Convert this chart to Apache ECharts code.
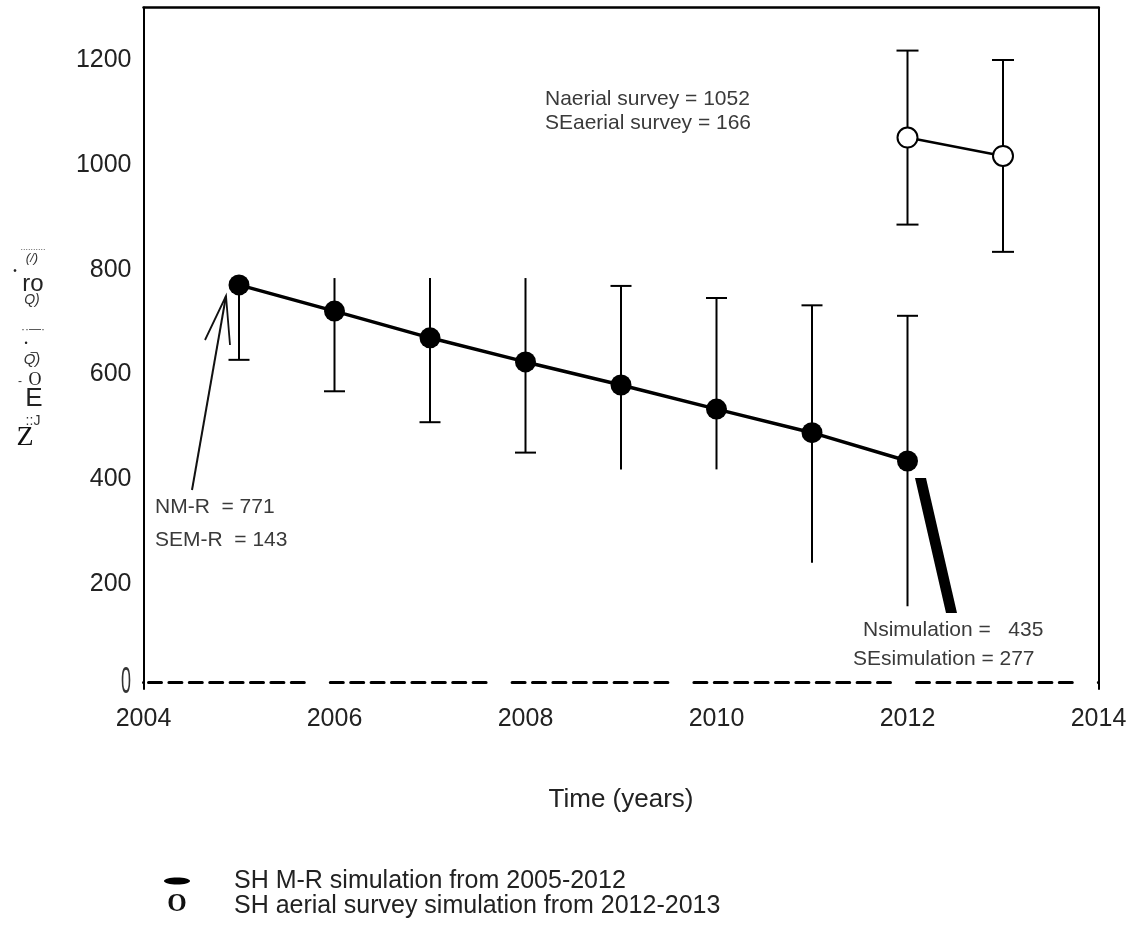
<!DOCTYPE html>
<html>
<head>
<meta charset="utf-8">
<script src="https://cdn.jsdelivr.net/npm/echarts@6/dist/echarts.min.js"></script>
<style>
  html, body { margin: 0; padding: 0; background: #fff; }
  #chart { width: 1132px; height: 932px; }
</style>
</head>
<body>
<div id="chart"></div>
<script>
// Mark-recapture (M-R) simulation, 2005-2012
const mrYears = [2005, 2006, 2007, 2008, 2009, 2010, 2011, 2012];
const mrN     = [771, 721, 670, 624, 580, 534, 489, 435];
const mrLow   = [628, 568, 509, 451, 419, 419, 241, 158];
const mrHigh  = [771, 784, 784, 784, 769, 746, 732, 712];
const mrCapLow  = [1, 1, 1, 1, 0, 0, 0, 0];
const mrCapHigh = [0, 0, 0, 0, 1, 1, 1, 1];

// Aerial survey simulation, 2012-2013
const aerialYears = [2012, 2013];
const aerialN     = [1052, 1017];
const aerialLow   = [886, 834];
const aerialHigh  = [1218, 1200];

// Axis ranges and tick labels
const xRange = [2004, 2014];
const xStep = 2;
const yRange = [0, 1300];
const yStep = 200;

const FONT = '"Liberation Sans", Arial, sans-serif';
const SERIF = '"Liberation Serif", "Times New Roman", serif';

// Bottom axis drawn as groups of short dashes
function dashGroups(counts, dash, gap, groupGap, lead) {
  const arr = [0, lead];
  counts.forEach(n => {
    for (let i = 0; i < n; i++) {
      arr.push(dash, i < n - 1 ? gap : groupGap);
    }
  });
  arr.push(0, 3000);
  return arr;
}

function errorBars(capHalf, width) {
  return function (params, api) {
    const x = api.value(0);
    const lo = api.coord([x, api.value(1)]);
    const hi = api.coord([x, api.value(2)]);
    const style = { stroke: '#000', lineWidth: width, fill: null };
    const children = [{ type: 'line', shape: { x1: lo[0], y1: lo[1], x2: hi[0], y2: hi[1] }, style }];
    if (api.value(3)) children.push({ type: 'line', shape: { x1: lo[0] - capHalf, y1: lo[1], x2: lo[0] + capHalf, y2: lo[1] }, style });
    if (api.value(4)) children.push({ type: 'line', shape: { x1: hi[0] - capHalf, y1: hi[1], x2: hi[0] + capHalf, y2: hi[1] }, style });
    return { type: 'group', children };
  };
}

const mrPoints = mrYears.map((y, i) => [y, mrN[i]]);
const mrBars = mrYears.map((y, i) => [y, mrLow[i], mrHigh[i], mrCapLow[i], mrCapHigh[i]]);
const aerialPoints = aerialYears.map((y, i) => [y, aerialN[i]]);
const aerialBars = aerialYears.map((y, i) => [y, aerialLow[i], aerialHigh[i], 1, 1]);

function txt(x, y, text, size, opts) {
  opts = opts || {};
  return {
    type: 'text', x, y, z: 50,
    scaleX: opts.scaleX || 1,
    style: {
      text,
      font: (opts.weight || 'normal') + ' ' + (opts.italic ? 'italic ' : '') + size + 'px ' + (opts.family || FONT),
      fill: opts.color || '#3a3a3a',
      textAlign: opts.align || 'left',
      textVerticalAlign: 'middle',
      align: opts.align || 'left',
      verticalAlign: 'middle'
    }
  };
}

const chart = echarts.init(document.getElementById('chart'), null, { renderer: 'canvas' });

chart.setOption({
  animation: false,
  backgroundColor: '#fff',
  textStyle: { fontFamily: FONT },
  grid: { left: 143.5, right: 33.5, top: 7.6, bottom: 243, containLabel: false },
  xAxis: [
    {
      type: 'value', position: 'bottom', offset: -7,
      min: xRange[0], max: xRange[1], interval: xStep,
      axisLine: { onZero: false, lineStyle: { color: '#000', width: 3, type: dashGroups([8, 8, 8, 10, 8], 13, 7.4, 26, 5) } },
      axisTick: { show: false },
      splitLine: { show: false },
      axisLabel: { fontSize: 25, color: '#222', margin: 25, formatter: v => String(v) },
      name: 'Time (years)', nameLocation: 'middle', nameGap: 105,
      nameTextStyle: { fontSize: 26, color: '#222' }
    },
    {
      type: 'value', position: 'top',
      min: xRange[0], max: xRange[1],
      axisLine: { onZero: false, lineStyle: { color: '#000', width: 2.5 } },
      axisTick: { show: false }, axisLabel: { show: false }, splitLine: { show: false }
    }
  ],
  yAxis: [
    {
      type: 'value', position: 'left',
      min: yRange[0], max: yRange[1], interval: yStep,
      axisLine: { onZero: false, lineStyle: { color: '#000', width: 2 } },
      axisTick: { show: false },
      splitLine: { show: false },
      axisLabel: {
        fontSize: 25, color: '#222', margin: 12,
        formatter: v => (v > 0 && v % yStep === 0) ? String(v) : ''
      }
    },
    {
      type: 'value', position: 'right',
      min: yRange[0], max: yRange[1],
      axisLine: { onZero: false, lineStyle: { color: '#000', width: 2 } },
      axisTick: { show: false }, axisLabel: { show: false }, splitLine: { show: false }
    }
  ],
  series: [
    {
      name: 'SH M-R simulation from 2005-2012 (SE)',
      type: 'custom', z: 1,
      renderItem: errorBars(10.5, 2),
      encode: { x: 0, y: [1, 2] },
      data: mrBars
    },
    {
      name: 'SH M-R simulation from 2005-2012',
      type: 'line', z: 3,
      data: mrPoints,
      symbol: 'circle', symbolSize: 21,
      itemStyle: { color: '#000' },
      lineStyle: { color: '#000', width: 3.5 }
    },
    {
      name: 'SH aerial survey simulation from 2012-2013 (SE)',
      type: 'custom', z: 1,
      renderItem: errorBars(11, 2),
      encode: { x: 0, y: [1, 2] },
      data: aerialBars
    },
    {
      name: 'SH aerial survey simulation from 2012-2013',
      type: 'line', z: 3,
      data: aerialPoints,
      symbol: 'circle', symbolSize: 20,
      itemStyle: { color: '#fff', borderColor: '#000', borderWidth: 2 },
      lineStyle: { color: '#000', width: 2.5 }
    }
  ],
  graphic: [
    // zero label on the value axis
    txt(126, 683, '0', 36, { weight: '300', scaleX: 0.5, align: 'center', color: '#333' }),

    // vertical axis title glyphs
    txt(33, 248, '..........', 9, { align: 'center', color: '#555' }),
    txt(32, 258, '(/)', 13, { italic: true, align: 'center', color: '#333' }),
    txt(15, 271, '•', 10, { align: 'center', color: '#222' }),
    txt(33, 284, 'ro', 24, { align: 'center', color: '#222' }),
    txt(32, 300, 'Q)', 14, { italic: true, align: 'center', color: '#333' }),
    txt(33, 330, '··—·', 12, { align: 'center', color: '#444' }),
    txt(26, 344, '•', 9, { align: 'center', color: '#222' }),
    txt(34, 347, '_', 12, { align: 'center', color: '#222' }),
    txt(32, 360, 'Q)', 15, { italic: true, align: 'center', color: '#333' }),
    txt(20, 382, '-', 12, { align: 'center', color: '#333' }),
    txt(35, 380, 'O', 18, { family: SERIF, align: 'center', color: '#222' }),
    txt(34, 399, 'E', 26, { align: 'center', color: '#222' }),
    txt(33, 421, '::J', 14, { align: 'center', color: '#333' }),
    txt(25, 438, 'Z', 28, { family: SERIF, align: 'center', color: '#111' }),

    // annotation: M-R starting estimate
    { type: 'polyline', z: 40, shape: { points: [[192, 490], [226, 296]] }, style: { stroke: '#111', lineWidth: 2, fill: null } },
    { type: 'polyline', z: 40, shape: { points: [[205, 340], [226, 296], [230, 345]] }, style: { stroke: '#111', lineWidth: 1.8, fill: null } },
    txt(155, 507, 'NM-R  = 771', 21),
    txt(155, 540, 'SEM-R  = 143', 21),

    // annotation: aerial survey estimate
    txt(545, 99, 'Naerial survey = 1052', 21),
    txt(545, 123, 'SEaerial survey = 166', 21),

    // annotation: simulation end estimate
    { type: 'polygon', z: 40, shape: { points: [[915, 478], [926, 478], [957, 613], [946, 613]] }, style: { fill: '#000' } },
    txt(863, 630, 'Nsimulation =   435', 21),
    txt(853, 659, 'SEsimulation = 277', 21),

    // key
    { type: 'ellipse', z: 40, shape: { cx: 177, cy: 881, rx: 13, ry: 3.5 }, style: { fill: '#000' } },
    txt(177, 905, 'O', 25, { family: SERIF, weight: 'bold', align: 'center', color: '#111' }),
    txt(234, 881, 'SH M-R simulation from 2005-2012', 25, { color: '#222' }),
    txt(234, 906, 'SH aerial survey simulation from 2012-2013', 25, { color: '#222' })
  ]
});
</script>
</body>
</html>
